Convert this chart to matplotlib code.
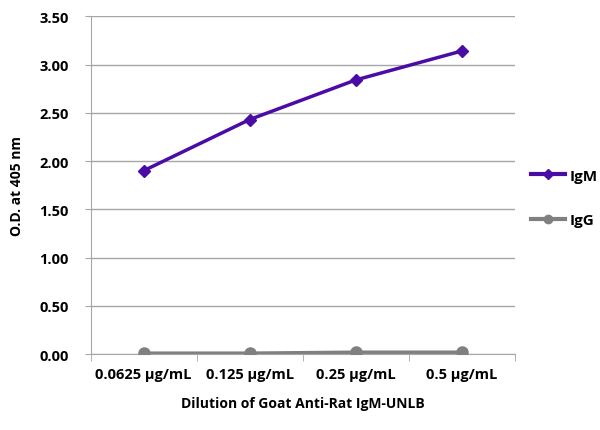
import numpy as np
import matplotlib.pyplot as plt
from matplotlib.lines import Line2D

# data
dilutions = ['0.0625 µg/mL', '0.125 µg/mL', '0.25 µg/mL', '0.5 µg/mL']
igm = [1.90, 2.43, 2.84, 3.14]
igg = [0.01, 0.01, 0.02, 0.02]
yticks = [0.0, 0.5, 1.0, 1.5, 2.0, 2.5, 3.0, 3.5]

purple = '#4B0BA6'
grey = '#808080'
axis_grey = '#A6A6A6'

plt.rcParams['font.family'] = ['Open Sans', 'DejaVu Sans']
plt.rcParams['font.weight'] = 'bold'

fig = plt.figure(figsize=(6.0, 4.31), dpi=100)
ax = fig.add_axes([0.151, 0.176, 0.707, 0.784])

x = np.arange(len(dilutions))
ax.plot(x, igm, color=purple, lw=2.5, marker='D', ms=6, label='IgM', zorder=3)
ax.plot(x, igg, color=grey, lw=2.5, marker='o', ms=8, label='IgG', zorder=3)

ax.set_xlim(-0.5, len(dilutions) - 0.5)
ax.set_ylim(0, 3.5)
ax.set_yticks(yticks)
ax.set_yticklabels(['%.2f' % v for v in yticks], fontsize=10.5, fontweight='bold')
ax.set_xticks(x)
ax.set_xticklabels(dilutions, fontsize=10.5, fontweight='bold')
ax.tick_params(axis='x', which='major', length=0, pad=9)
ax.set_xticks(np.arange(-0.5, len(dilutions), 1.0), minor=True)
ax.tick_params(axis='x', which='minor', length=5, color=axis_grey, direction='out')
ax.tick_params(axis='y', length=4, color=axis_grey, pad=12)

ax.grid(axis='y', color=axis_grey, lw=1)
ax.set_axisbelow(True)
for s in ['top', 'right']:
    ax.spines[s].set_visible(False)
for s in ['left', 'bottom']:
    ax.spines[s].set_color(axis_grey)

ax.set_ylabel('O.D. at 405 nm', fontsize=10, fontweight='bold', labelpad=11)
ax.set_xlabel('Dilution of Goat Anti-Rat IgM-UNLB', fontsize=10,
              fontweight='bold', labelpad=11)

handles = [Line2D([], [], color=purple, lw=3, marker='D', ms=5),
           Line2D([], [], color=grey, lw=3, marker='o', ms=6)]
fig.legend(handles, ['IgM', 'IgG'], loc='center left',
           bbox_to_anchor=(0.862, 0.538), frameon=False,
           handlelength=2.2, handletextpad=0.3, labelspacing=2.0,
           prop={'weight': 'bold', 'size': 11})

fig.savefig('out.png', dpi=100)
